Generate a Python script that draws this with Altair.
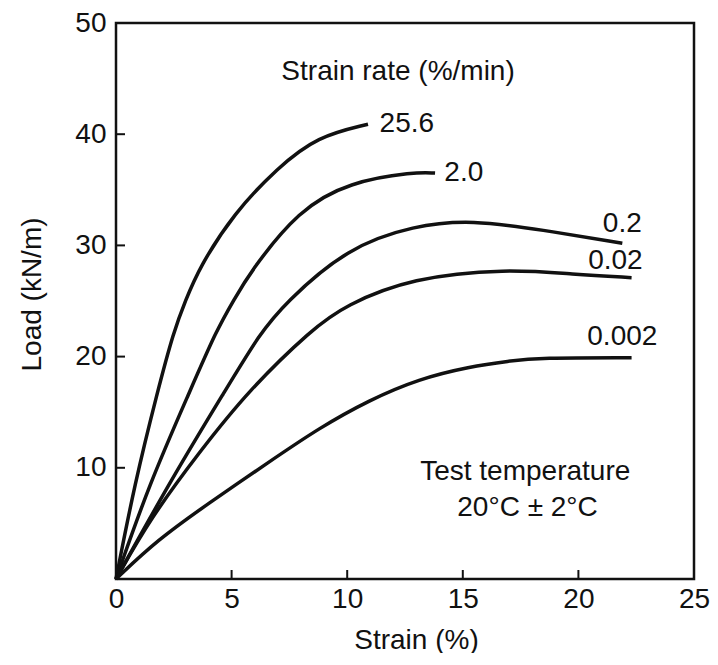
import altair as alt
import pandas as pd

# ---- data ----
rates = ["25.6", "2.0", "0.2", "0.02", "0.002"]

strain_25_6 = [0, 0.8, 1.8, 2.5, 3.0, 3.6, 5.1, 7.0, 8.7, 10.9]
load_25_6 = [0, 8.5, 16.9, 22.3, 25.0, 28.0, 32.9, 37.0, 39.8, 40.9]

strain_2_0 = [0, 1.43, 3.2, 4.35, 5.1, 5.8, 7.9, 10.1, 12.9, 13.8]
load_2_0 = [0, 8.5, 16.9, 22.4, 25.1, 27.6, 33.2, 35.7, 36.6, 36.5]

strain_0_2 = [0, 2.4, 4.8, 6.2, 7.3, 10.0, 12.9, 15.4, 18.4, 21.9]
load_0_2 = [0, 9.0, 17.2, 22.0, 24.8, 29.8, 31.8, 32.3, 31.4, 30.2]

strain_0_02 = [0, 1.5, 3.6, 5.75, 8.5, 9.9, 12.8, 16.9, 19.8, 22.3]
load_0_02 = [0, 5.5, 11.4, 17.0, 22.5, 24.6, 27.1, 27.9, 27.4, 27.1]

strain_0_002 = [0, 1.78, 4.0, 6.6, 8.8, 10.96, 13.1, 15.3, 17.0, 18.3, 22.3]
load_0_002 = [0, 3.5, 6.8, 10.5, 13.6, 16.1, 18.0, 19.1, 19.6, 19.9, 19.9]

x_ticks = [0, 5, 10, 15, 20, 25]
y_ticks = [10, 20, 30, 40, 50]
x_inner_ticks = [5, 10, 15, 20]
y_inner_ticks = [10, 20, 30, 40]

# curve end labels
label_text = ["25.6", "2.0", "0.2", "0.02", "0.002"]
label_x = [11.4, 14.2, 21.9, 21.6, 21.9]
label_y = [40.9, 36.5, 31.9, 28.6, 21.8]
label_align = ["left", "left", "center", "center", "center"]

note_text = ["Strain rate (%/min)", "Test temperature", "20°C ± 2°C"]
note_x = [12.2, 17.7, 17.8]
note_y = [45.6, 9.6, 6.4]

# ---- build tables ----
series = [
    (rates[0], strain_25_6, load_25_6),
    (rates[1], strain_2_0, load_2_0),
    (rates[2], strain_0_2, load_0_2),
    (rates[3], strain_0_02, load_0_02),
    (rates[4], strain_0_002, load_0_002),
]
curves = pd.concat(
    [pd.DataFrame({"rate": r, "strain": xs, "load": ys}) for r, xs, ys in series],
    ignore_index=True,
)
labels = pd.DataFrame({"text": label_text, "x": label_x, "y": label_y, "align": label_align})
notes = pd.DataFrame({"text": note_text, "x": note_x, "y": note_y})

FONT = "Liberation Sans"
FS = 28
INK = "#111111"
W, H = 578, 556

xscale = alt.Scale(domain=[0, 25], nice=False)
yscale = alt.Scale(domain=[0, 50], nice=False)

lines = alt.Chart(curves).mark_line(
    color=INK, strokeWidth=3.5, interpolate="basis"
).encode(
    x=alt.X("strain:Q", scale=xscale,
            axis=alt.Axis(values=x_ticks, title="Strain (%)", grid=False, domain=False,
                          ticks=False, labelPadding=6, labelFontSize=FS, labelFont=FONT,
                          labelColor=INK, titleFontSize=FS, titleFont=FONT,
                          titleFontWeight="normal", titleColor=INK,
                          titleX=300, titleY=61, titleBaseline="middle", labelFlush=False)),
    y=alt.Y("load:Q", scale=yscale,
            axis=alt.Axis(values=y_ticks, title="Load (kN/m)", grid=False, domain=False,
                          ticks=False, labelPadding=10, labelFontSize=FS, labelFont=FONT,
                          labelColor=INK, titleFontSize=FS, titleFont=FONT,
                          titleFontWeight="normal", titleColor=INK,
                          titleX=-84, titleY=271, titleBaseline="middle", titleAlign="center",
                          labelFlush=False)),
    detail="rate:N",
    order="strain:Q",
)

ytick_df = pd.DataFrame({"v": y_inner_ticks})
xtick_df = pd.DataFrame({"v": x_inner_ticks})

yticks = alt.Chart(ytick_df).mark_rule(color=INK, strokeWidth=2).encode(
    y=alt.Y("v:Q", scale=yscale), x=alt.value(0), x2=alt.value(9)
)
xticks = alt.Chart(xtick_df).mark_rule(color=INK, strokeWidth=2).encode(
    x=alt.X("v:Q", scale=xscale), y=alt.value(H), y2=alt.value(H - 9)
)

lab_left = alt.Chart(labels[labels["align"] == "left"]).mark_text(
    font=FONT, fontSize=FS, color=INK, align="left", baseline="middle"
).encode(x=alt.X("x:Q", scale=xscale), y=alt.Y("y:Q", scale=yscale), text="text:N")

lab_center = alt.Chart(labels[labels["align"] == "center"]).mark_text(
    font=FONT, fontSize=FS, color=INK, align="center", baseline="middle"
).encode(x=alt.X("x:Q", scale=xscale), y=alt.Y("y:Q", scale=yscale), text="text:N")

note_marks = alt.Chart(notes).mark_text(
    font=FONT, fontSize=FS, color=INK, align="center", baseline="middle"
).encode(x=alt.X("x:Q", scale=xscale), y=alt.Y("y:Q", scale=yscale), text="text:N")

chart = alt.layer(lines, yticks, xticks, lab_left, lab_center, note_marks).properties(
    width=W, height=H,
    autosize=alt.AutoSizeParams(type="none"),
    padding={"left": 108, "top": 15, "right": 16, "bottom": 74},
    background="white",
).configure_view(
    stroke=INK, strokeWidth=2.5
)

chart.save("out.html", embed_options={"renderer": "svg", "actions": False})
